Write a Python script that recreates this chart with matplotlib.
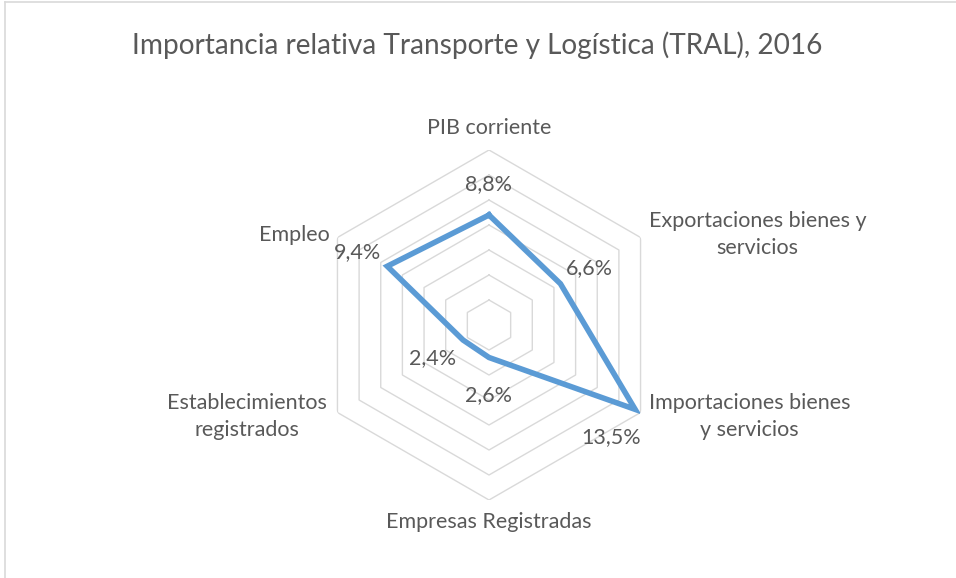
import numpy as np
import matplotlib
matplotlib.use("Agg")
import matplotlib.pyplot as plt
from matplotlib.lines import Line2D

# Indicadores del sector TRAL (participación %, 2016)
categorias = [
    "PIB corriente",
    "Exportaciones bienes y\nservicios",
    "Importaciones bienes\ny servicios",
    "Empresas Registradas",
    "Establecimientos\nregistrados",
    "Empleo",
]
valores = [8.8, 6.6, 13.5, 2.6, 2.4, 9.4]
etiquetas_valor = ["8,8%", "6,6%", "13,5%", "2,6%", "2,4%", "9,4%"]
anillos = [2, 4, 6, 8, 10, 12, 14]
titulo = "Importancia relativa Transporte y Logística (TRAL), 2016"

plt.rcParams["font.family"] = ["Lato", "DejaVu Sans"]
texto = "#595959"

fig = plt.figure(figsize=(9.56, 5.78), dpi=100)
fig.patch.set_facecolor("white")

# marco del área del gráfico
fig.add_artist(Line2D([5 / 956, 1], [1 - 1.5 / 578] * 2, color="#D9D9D9", lw=1.2,
                      transform=fig.transFigure))
fig.add_artist(Line2D([5 / 956] * 2, [0, 1 - 1.5 / 578], color="#D9D9D9", lw=1.2,
                      transform=fig.transFigure))

ax = fig.add_axes([0.32845, 0.13495, 0.36611, 0.60554], projection="polar")
ax.set_theta_offset(np.pi / 2)
ax.set_theta_direction(-1)
ax.set_ylim(0, anillos[-1])
ax.grid(False)
ax.spines["polar"].set_visible(False)
ax.set_xticks([])
ax.set_yticks([])
ax.patch.set_visible(False)

n = len(categorias)
ang = np.linspace(0, 2 * np.pi, n, endpoint=False)
ang_c = np.append(ang, ang[0])

# rejilla hexagonal
for r in anillos:
    ax.plot(ang_c, [r] * (n + 1), color="#D9D9D9", lw=1.0, zorder=1)

# serie
vals_c = valores + valores[:1]
ax.plot(ang_c, vals_c, color="#5B9BD5", lw=4.0, solid_joinstyle="miter", zorder=3)

# etiquetas de datos (desplazamiento en píxeles)
desp_valor = [(0, 31), (29, 16), (-24, -28), (0, -38), (-30, -18), (-30, 14)]
for a, v, t, d in zip(ang, valores, etiquetas_valor, desp_valor):
    ax.annotate(t, xy=(a, v), xytext=d, textcoords="offset pixels",
                ha="center", va="center", fontsize=15.5, color=texto,
                annotation_clip=False)

# etiquetas de categoría junto a los vértices exteriores
estilo_cat = [
    ((0, 22), "center"),
    ((8, 3), "left"),
    ((8, -4), "left"),
    ((0, -22), "center"),
    ((-11, -4), "right"),
    ((-8, 2), "right"),
]
for a, c, (d, ha) in zip(ang, categorias, estilo_cat):
    ax.annotate(c, xy=(a, anillos[-1]), xytext=d, textcoords="offset pixels",
                ha=ha, va="center", multialignment="center", fontsize=15.5,
                color=texto, linespacing=1.45, annotation_clip=False)

fig.text(477.5 / 956, 1 - 45 / 578, titulo, ha="center", va="center",
         fontsize=20.2, color=texto)

fig.savefig("out.png", dpi=100)
